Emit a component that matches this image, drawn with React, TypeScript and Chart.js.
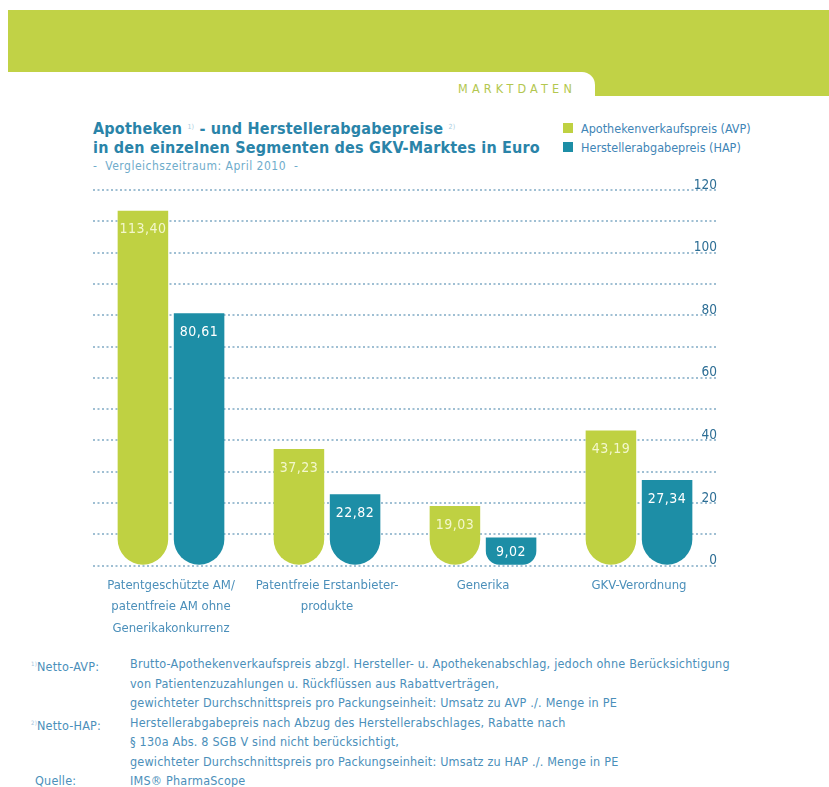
import React, { useEffect, useRef } from 'react';
import { Chart, registerables } from 'chart.js';

Chart.register(...registerables);

const categories: string[][] = [
  ['Patentgeschützte AM/', 'patentfreie AM ohne', 'Generikakonkurrenz'],
  ['Patentfreie Erstanbieter-', 'produkte'],
  ['Generika'],
  ['GKV-Verordnung'],
];
const avpValues = [113.4, 37.23, 19.03, 43.19];
const hapValues = [80.61, 22.82, 9.02, 27.34];
const seriesLabels = ['Apothekenverkaufspreis (AVP)', 'Herstellerabgabepreis (HAP)'];
const seriesColors = ['#bfd142', '#1d8ea6'];
const valueLabelColors = ['#f3f7cc', '#ffffff'];
const yTickLabels = [0, 20, 40, 60, 80, 100, 120];

const footnotes: { label: string; sup: string; lines: string[] }[] = [
  {
    sup: '1)',
    label: 'Netto-AVP:',
    lines: [
      'Brutto-Apothekenverkaufspreis abzgl. Hersteller- u. Apothekenabschlag, jedoch ohne Berücksichtigung',
      'von Patientenzuzahlungen u. Rückflüssen aus Rabattverträgen,',
      'gewichteter Durchschnittspreis pro Packungseinheit: Umsatz zu AVP ./. Menge in PE',
    ],
  },
  {
    sup: '2)',
    label: 'Netto-HAP:',
    lines: [
      'Herstellerabgabepreis nach Abzug des Herstellerabschlages, Rabatte nach',
      '§ 130a Abs. 8 SGB V sind nicht  berücksichtigt,',
      'gewichteter Durchschnittspreis pro Packungseinheit: Umsatz zu HAP ./. Menge in PE',
    ],
  },
  { sup: '', label: 'Quelle:', lines: ['IMS® PharmaScope'] },
];

const COND = '"DejaVu Sans Condensed", "Liberation Sans Narrow", "DejaVu Sans", sans-serif';
const BANNER = '#c1d246';
const TITLE_COLOR = '#2a84a9';
const TEXT_COLOR = '#4b8fba';

const fmt = (v: number) => v.toFixed(2).replace('.', ',');

const valueLabelPlugin = {
  id: 'valueLabels',
  afterDatasetsDraw(chart: any) {
    const ctx = chart.ctx;
    chart.data.datasets.forEach((ds: any, di: number) => {
      const meta = chart.getDatasetMeta(di);
      meta.data.forEach((bar: any, i: number) => {
        const { x, y, base } = bar.getProps(['x', 'y', 'base'], true);
        const h = base - y;
        const cy = y + Math.min(19, h / 2 + 1);
        ctx.save();
        ctx.font = `14px ${COND}`;
        (ctx as any).letterSpacing = '0.5px';
        ctx.fillStyle = valueLabelColors[di];
        ctx.textAlign = 'center';
        ctx.textBaseline = 'middle';
        ctx.fillText(fmt(ds.data[i]), x, cy);
        ctx.restore();
      });
    });
  },
};

function BarChart() {
  const ref = useRef<HTMLCanvasElement | null>(null);
  useEffect(() => {
    if (!ref.current) return;
    const chart = new Chart(ref.current, {
      type: 'bar',
      data: {
        labels: categories,
        datasets: [avpValues, hapValues].map((vals, i) => ({
          label: seriesLabels[i],
          data: vals,
          backgroundColor: seriesColors[i],
          borderWidth: 0,
          borderSkipped: false,
          borderRadius: { topLeft: 0, topRight: 0, bottomLeft: 26, bottomRight: 26 },
          categoryPercentage: 0.72,
          barPercentage: 0.9,
        })),
      },
      options: {
        responsive: false,
        animation: false,
        layout: { padding: { left: 13, top: 13, right: 23, bottom: 4 } },
        plugins: {
          legend: { display: false },
          tooltip: { enabled: false },
        },
        scales: {
          x: {
            grid: { display: false, drawTicks: false },
            border: { display: false },
            ticks: {
              color: TEXT_COLOR,
              padding: 9,
              font: { family: COND, size: 13, lineHeight: 1.65 },
            },
          },
          y: {
            position: 'right',
            min: 0,
            max: 120,
            border: { display: false, dash: [2, 2.5] },
            grid: {
              color: '#9fbfd3',
              lineWidth: 2,
              drawTicks: false,
            },
            ticks: {
              stepSize: 10,
              maxTicksLimit: 20,
              mirror: true,
              padding: 0,
              labelOffset: -5,
              color: '#2d6e95',
              font: { family: COND, size: 13.5 },
              callback: (v: any) => (yTickLabels.includes(Number(v)) ? String(v) : ''),
            },
          },
        },
      } as any,
      plugins: [valueLabelPlugin],
    });
    return () => chart.destroy();
  }, []);
  return <canvas ref={ref} width={660} height={475} style={{ width: 660, height: 475, display: 'block' }} />;
}

export default function App() {
  const abs = (s: React.CSSProperties): React.CSSProperties => ({ position: 'absolute', ...s });
  return (
    <div style={abs({ left: 0, top: 0, width: 829, height: 787, background: '#fff', overflow: 'hidden' })}>
      {/* banner */}
      <div style={abs({ left: 8, top: 10, width: 821, height: 62, background: BANNER })} />
      <div style={abs({ left: 570, top: 10, width: 259, height: 86, background: BANNER })} />
      <div style={abs({ left: 8, top: 72, width: 587, height: 30, background: '#fff', borderTopRightRadius: 13 })} />
      <div
        style={abs({
          left: 458,
          top: 81,
          font: `12.5px ${COND}`,
          letterSpacing: 4.2,
          color: '#b3c74f',
        })}
      >
        MARKTDATEN
      </div>

      {/* title */}
      <div
        style={abs({
          left: 93,
          top: 118,
          font: `bold 16px ${COND}`,
          letterSpacing: 0.2,
          lineHeight: '19px',
          color: TITLE_COLOR,
          whiteSpace: 'nowrap',
        })}
      >
        Apotheken <span style={{ fontSize: 7, fontWeight: 'normal', color: '#a9cde0', verticalAlign: 5 }}>1)</span> - und
        Herstellerabgabepreise <span style={{ fontSize: 7, fontWeight: 'normal', color: '#a9cde0', verticalAlign: 5 }}>2)</span>
        <br />
        in den einzelnen Segmenten des GKV-Marktes in Euro
      </div>
      <div
        style={abs({
          left: 93,
          top: 159,
          font: `12px ${COND}`,
          letterSpacing: 0.5,
          color: '#6faccb',
          whiteSpace: 'nowrap',
        })}
      >
        -&nbsp; Vergleichszeitraum: April 2010&nbsp; -
      </div>

      {/* legend */}
      {seriesLabels.map((l, i) => (
        <div key={l} style={abs({ left: 563, top: 120 + i * 19, height: 16, display: 'flex', alignItems: 'center' })}>
          <span style={{ width: 10, height: 10, background: seriesColors[i], display: 'inline-block', marginRight: 8 }} />
          <span style={{ font: `12.5px ${COND}`, color: '#3f85b6', whiteSpace: 'nowrap' }}>{l}</span>
        </div>
      ))}

      {/* chart */}
      <div style={abs({ left: 80, top: 177, width: 660, height: 475 })}>
        <BarChart />
      </div>

      {/* footnotes */}
      <div
        style={abs({
          left: 0,
          top: 654,
          width: 829,
          font: `12.5px ${COND}`,
          letterSpacing: 0.2,
          color: TEXT_COLOR,
          lineHeight: '19.5px',
        })}
      >
        {footnotes.map((f) =>
          f.lines.map((line, j) => (
            <div key={f.label + j} style={{ position: 'relative', height: 19.5, whiteSpace: 'nowrap' }}>
              {j === 0 && (
                <span style={{ position: 'absolute', left: f.sup ? 31 : 35 }}>
                  {f.sup && <span style={{ fontSize: 6, verticalAlign: 5, color: '#9fc4da' }}>{f.sup}</span>}
                  {f.label}
                </span>
              )}
              <span style={{ position: 'absolute', left: 130 }}>{line}</span>
            </div>
          )),
        )}
      </div>
    </div>
  );
}
